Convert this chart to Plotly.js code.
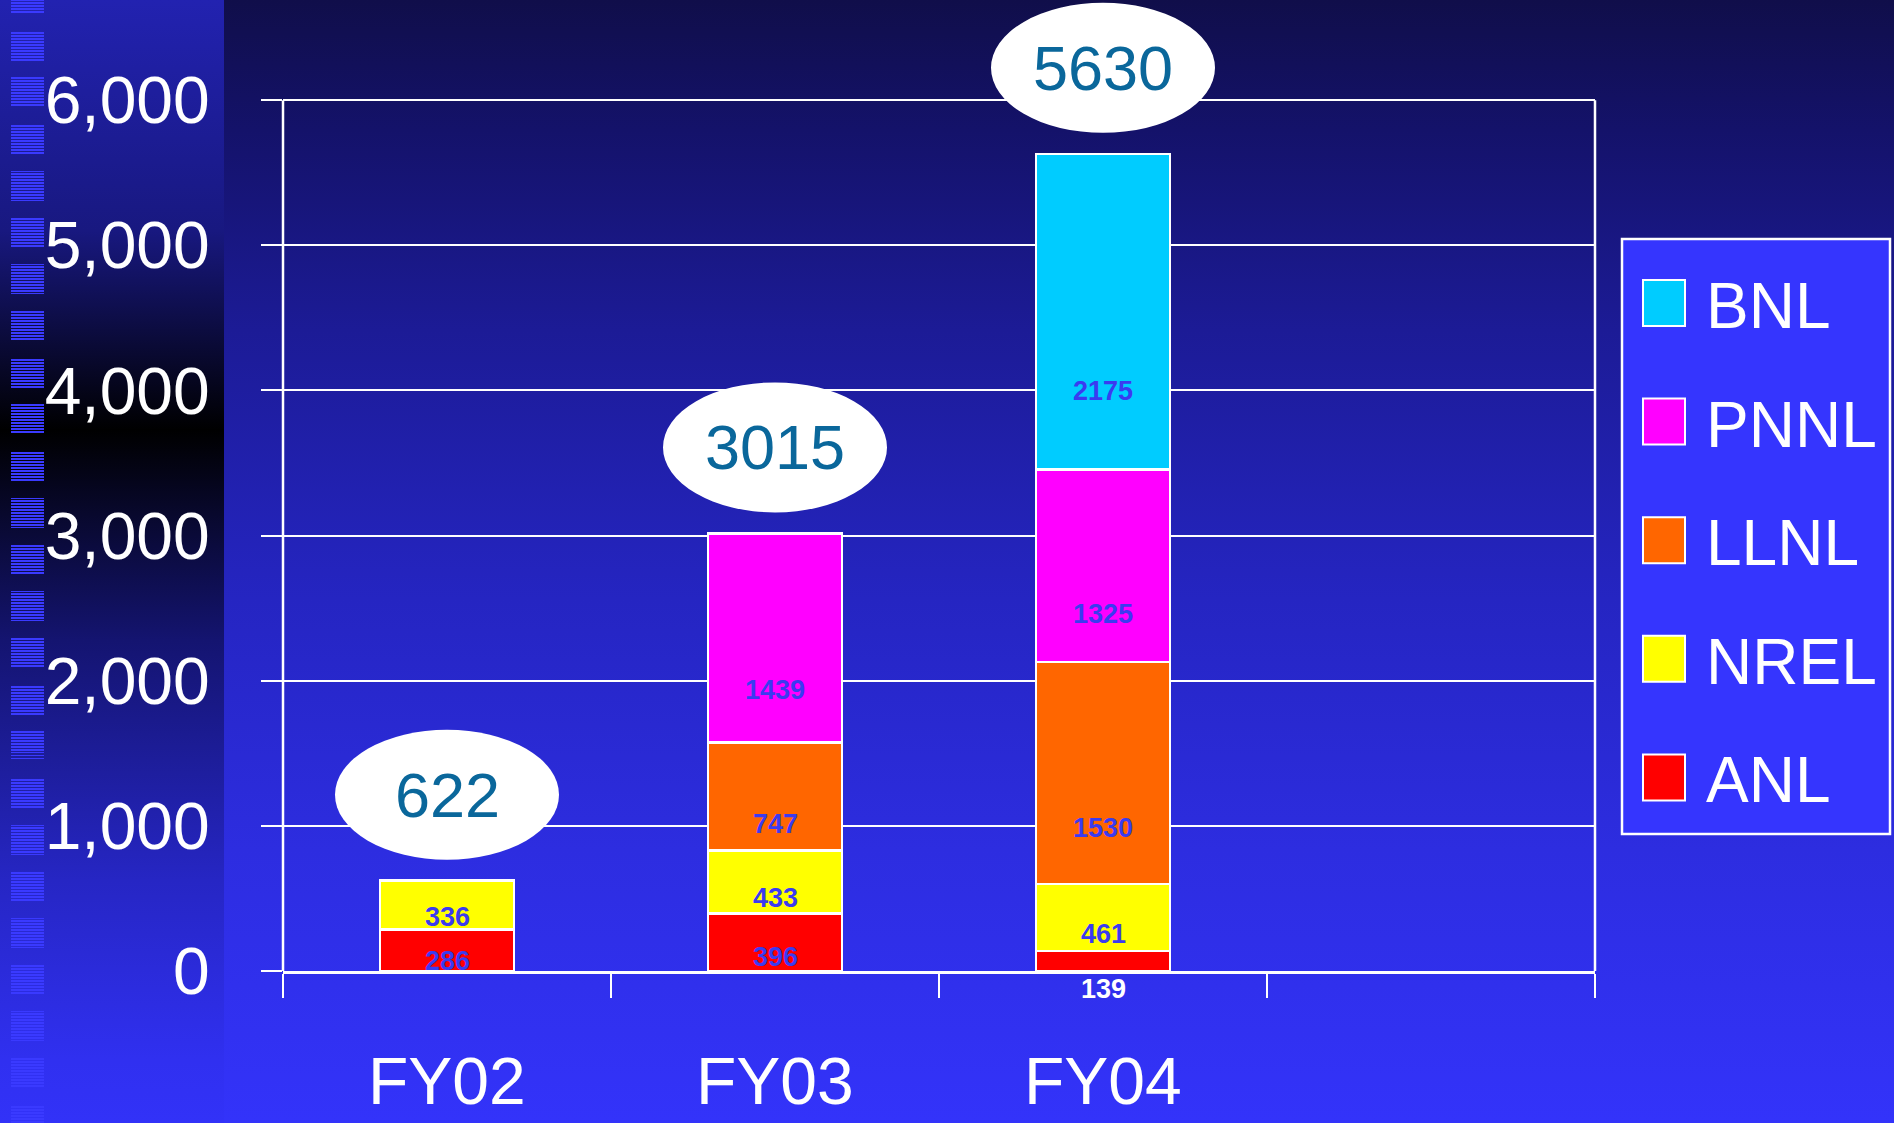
<!DOCTYPE html>
<html>
<head>
<meta charset="utf-8">
<script src="https://cdn.plot.ly/plotly-3.0.1.min.js"></script>
<style>
html,body{margin:0;padding:0;width:1894px;height:1123px;overflow:hidden;}
body{background:linear-gradient(to bottom,#100e4a 0px,#14126a 130px,#1c1b96 330px,#2525c2 600px,#2d2de0 850px,#3333fa 1123px);}
#panel{position:absolute;left:0;top:0;width:224px;height:1123px;
 background:linear-gradient(to bottom,rgb(34,34,176) 0px,rgb(24,24,128) 230px,rgb(0,0,0) 430px,rgb(20,20,112) 640px,rgb(38,38,196) 880px,rgb(48,48,240) 1060px,rgb(50,50,248) 1123px);}
#stripes{position:absolute;left:11px;top:-16px;width:33px;height:1140px;
 background:repeating-linear-gradient(to bottom,rgba(58,58,255,1) 0px,rgba(58,58,255,1) 1.5px,rgba(0,0,0,0) 1.5px,rgba(0,0,0,0) 3px);
 -webkit-mask-image:repeating-linear-gradient(to bottom,#000 0px,#000 30px,rgba(0,0,0,0) 30px,rgba(0,0,0,0) 46.7px);
 mask-image:repeating-linear-gradient(to bottom,#000 0px,#000 30px,rgba(0,0,0,0) 30px,rgba(0,0,0,0) 46.7px);}
#chart{position:absolute;left:0;top:0;width:1894px;height:1123px;}
</style>
</head>
<body>
<div id="panel"></div>
<div id="stripes"></div>
<div id="chart"></div>
<script>
// ---- data ----
const categories = ['FY02', 'FY03', 'FY04'];
const seriesNames = ['ANL', 'NREL', 'LLNL', 'PNNL', 'BNL'];
const ANL  = [286, 396, 139];
const NREL = [336, 433, 461];
const LLNL = [null, 747, 1530];
const PNNL = [null, 1439, 1325];
const BNL  = [null, null, 2175];
const totals = [622, 3015, 5630];
const yTickVals = [0, 1000, 2000, 3000, 4000, 5000, 6000];

const seriesValues = [ANL, NREL, LLNL, PNNL, BNL];
const seriesColors = ['#ff0000', '#ffff00', '#ff6600', '#ff00ff', '#00ccff'];

// ---- layout geometry ----
const W = 1894, H = 1123;
const mL = 283, mR = 299, mT = 0, mB = 152;
const plotW = W - mL - mR, plotH = H - mT - mB;
const yMax = 6690;
const X = px => (px - mL) / plotW;
const Y = py => (H - mB - py) / plotH;
const FONT = 'Liberation Sans, Arial, Helvetica, sans-serif';

const xIdx = categories.map((c, i) => i);

const traces = seriesValues.map((vals, s) => ({
  type: 'bar',
  name: seriesNames[s],
  x: xIdx,
  y: vals,
  width: 0.41,
  marker: {color: seriesColors[s], line: {color: '#ffffff', width: 2.5}},
  hoverinfo: 'skip',
  showlegend: false
}));

const annotations = [];
const shapes = [];

// segment labels
const base = categories.map(() => 0);
seriesValues.forEach((vals, s) => {
  vals.forEach((v, i) => {
    if (v == null) return;
    const segPx = v * plotH / yMax;
    if (segPx < 30) {
      annotations.push({x: xIdx[i], y: 0, xref: 'x', yref: 'y', yshift: -18, showarrow: false,
        text: '<b>' + v + '</b>', font: {family: FONT, size: 27, color: '#ffffff'}});
    } else {
      annotations.push({x: xIdx[i], y: base[i] + 0.25 * v, xref: 'x', yref: 'y', showarrow: false,
        text: '<b>' + v + '</b>', font: {family: FONT, size: 27, color: '#3b3bf0'}});
    }
    base[i] += v;
  });
});

// total bubbles
totals.forEach((t, i) => {
  shapes.push({type: 'circle', xref: 'x', yref: 'y', xsizemode: 'pixel', ysizemode: 'pixel',
    xanchor: xIdx[i], yanchor: t, x0: -112, x1: 112, y0: 21, y1: 151,
    fillcolor: '#ffffff', line: {width: 0}, layer: 'above'});
  annotations.push({x: xIdx[i], y: t, xref: 'x', yref: 'y', yshift: 86, showarrow: false,
    text: String(t), font: {family: FONT, size: 63, color: '#0a679b'}});
});

// category labels
categories.forEach((c, i) => {
  annotations.push({x: xIdx[i], y: 0, xref: 'x', yref: 'paper', yshift: -110, yanchor: 'middle',
    showarrow: false, text: c, font: {family: FONT, size: 66, color: '#ffffff'}});
});

// axis frame lines (left and right), from 0 to top gridline
[0, 1].forEach(p => {
  shapes.push({type: 'line', xref: 'paper', yref: 'y', x0: p, x1: p, y0: 0, y1: yTickVals[yTickVals.length - 1],
    line: {color: '#ffffff', width: 2.5}, layer: 'above'});
});

// legend
shapes.push({type: 'rect', xref: 'paper', yref: 'paper', x0: X(1622), x1: X(1890), y0: Y(834), y1: Y(239),
  fillcolor: '#3535fe', line: {color: '#ffffff', width: 2.5}, layer: 'below'});
const legendOrder = seriesNames.map((n, i) => i).reverse();
legendOrder.forEach((s, k) => {
  const cy = 303 + k * 118.6;
  shapes.push({type: 'rect', xref: 'paper', yref: 'paper', x0: X(1643), x1: X(1685), y0: Y(cy + 23), y1: Y(cy - 23),
    fillcolor: seriesColors[s], line: {color: '#ffffff', width: 2}, layer: 'above'});
  annotations.push({x: X(1704), y: Y(cy + 3), xref: 'paper', yref: 'paper', xanchor: 'left', yanchor: 'middle',
    showarrow: false, text: seriesNames[s], font: {family: FONT, size: 64, color: '#ffffff'}});
});

const layout = {
  width: W, height: H,
  margin: {l: mL, r: mR, t: mT, b: mB, pad: 0},
  paper_bgcolor: 'rgba(0,0,0,0)',
  plot_bgcolor: 'rgba(0,0,0,0)',
  barmode: 'stack',
  showlegend: false,
  xaxis: {
    range: [-0.5, 3.5],
    tickvals: [-0.5, 0.5, 1.5, 2.5, 3.5],
    ticktext: ['', '', '', '', ''],
    ticks: 'outside', ticklen: 24, tickwidth: 2, tickcolor: '#ffffff',
    showgrid: false, zeroline: false,
    showline: true, linecolor: '#ffffff', linewidth: 2.5,
    fixedrange: true
  },
  yaxis: {
    range: [0, yMax],
    tickvals: yTickVals,
    tickformat: ',d',
    ticks: 'outside', ticklen: 21, tickwidth: 2, tickcolor: '#ffffff',
    showgrid: true, gridcolor: '#ffffff', gridwidth: 2,
    showline: false, zeroline: false,
    tickfont: {family: FONT, size: 66, color: '#ffffff'},
    ticklabelstandoff: 38,
    fixedrange: true
  },
  shapes: shapes,
  annotations: annotations
};

Plotly.newPlot('chart', traces, layout, {displayModeBar: false, staticPlot: true});
</script>
</body>
</html>
